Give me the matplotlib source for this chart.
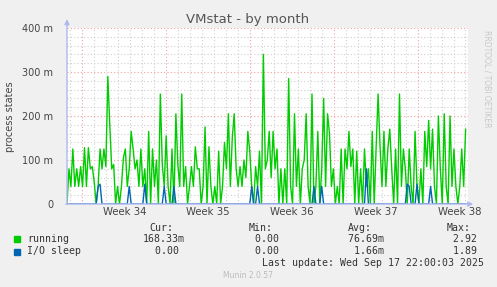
import numpy as np
import matplotlib
matplotlib.use("Agg")
import matplotlib.pyplot as plt
from matplotlib.patches import Rectangle

W, H = 497, 287

# running processes (milli-units), one reading every ~4h over the month
running = [
    0, 80, 40, 125, 40, 80, 40, 85, 40, 128, 40, 128, 80, 85, 50, 0, 40, 125, 80, 125,
    85, 290, 180, 80, 90, 0, 40, 0, 40, 105, 125, 40, 80, 165,
    125, 80, 100, 40, 125, 40, 80, 0, 165, 0, 125, 40, 100, 0, 250, 90, 40, 155, 40, 0,
    125, 0, 205, 90, 40, 250, 40, 85, 0, 40, 85, 40, 130, 80,
    80, 0, 40, 175, 0, 130, 40, 0, 40, 0, 120, 0, 40, 140, 80, 205, 40, 150, 205, 80,
    40, 85, 40, 100, 60, 165, 120, 40, 0, 85, 40, 120, 0, 340,
    80, 100, 165, 60, 165, 80, 125, 0, 80, 0, 80, 0, 285, 40, 0, 205, 40, 125, 0, 80,
    100, 205, 40, 0, 250, 0, 40, 165, 0, 80, 240, 40, 205, 160,
    40, 80, 0, 40, 0, 125, 0, 125, 80, 165, 85, 125, 0, 120, 0, 80, 0, 125, 40, 80,
    0, 165, 0, 130, 250, 130, 40, 165, 40, 125, 170, 80, 0, 125,
    0, 250, 40, 125, 80, 0, 125, 40, 0, 165, 40, 0, 80, 0, 165, 85, 190, 80, 170, 40,
    0, 200, 80, 0, 205, 40, 0, 200, 40, 125, 40, 0, 40, 125, 40, 170,
]

# I/O sleep spikes: day offset and value (milli-units)
io_days = [2.6, 2.75, 5.27, 6.5, 8.2, 9.0, 15.5, 15.9, 20.6, 21.2, 25.0, 28.4, 28.6, 29.3, 30.3]
io_vals = [40, 45, 40, 45, 40, 40, 40, 40, 40, 40, 80, 45, 40, 45, 40]

week_labels = ["Week 34", "Week 35", "Week 36", "Week 37", "Week 38"]
ytick_vals = [0, 100, 200, 300, 400]
ytick_labels = ["0", "100 m", "200 m", "300 m", "400 m"]

legend_names = ["running", "I/O sleep"]
legend_colors = ["#00CC00", "#0066B3"]
cur = ["168.33m", "  0.00 "]
mins = ["  0.00 ", "  0.00 "]
avgs = [" 76.69m", "  1.66m"]
maxs = ["  2.92 ", "  1.89 "]

span = 33.5      # days shown
data_end = 33.3
week0 = 1.29     # first week boundary (days)

x = np.linspace(0, data_end, len(running))
io = np.zeros(len(running))
for d, v in zip(io_days, io_vals):
    io[np.argmin(np.abs(x - d))] = v


def fx(px):
    return px / W


def fy(py):
    return 1 - py / H


fig = plt.figure(figsize=(W / 100, H / 100), dpi=100, facecolor="#F0F0F0")
ax = fig.add_axes([fx(67), fy(204), (468 - 67) / W, (204 - 28) / H])
ax.set_facecolor("white")
ax.set_xlim(0, span)
ax.set_ylim(0, 400)
for s in ax.spines.values():
    s.set_visible(False)

# grid
for d in np.arange(week0 - 1, span, 1.0):
    major = abs(((d - week0) / 7) - round((d - week0) / 7)) < 1e-6
    ax.axvline(d, color="#F2A0A0" if major else "#CFCFCF", lw=0.8,
               ls=(0, (1, 2)), zorder=0)
for v in range(20, 401, 20):
    ax.axhline(v, color="#F2A0A0" if v % 100 == 0 else "#CFCFCF", lw=0.8,
               ls=(0, (1, 2)), zorder=0)

ax.plot(x, running, color=legend_colors[0], lw=1.0, zorder=2)
ax.plot(x, io, color=legend_colors[1], lw=1.0, zorder=3)

ax.set_xticks([])
ax.set_yticks(ytick_vals)
ax.set_yticklabels(ytick_labels, fontsize=7, color="#444444")
ax.tick_params(axis="y", length=0, pad=10)

for i, lab in enumerate(week_labels):
    ax.text(week0 + 7 * i + 3.5, -6, lab, ha="center", va="top", fontsize=7.3,
            color="#444444", clip_on=False)

axis_col = "#AEB8EE"
ax.annotate("", xy=(1.013, 0), xytext=(-0.003, 0), xycoords="axes fraction",
            arrowprops=dict(arrowstyle="-|>", color=axis_col, lw=1, mutation_scale=7,
                            shrinkA=0, shrinkB=0))
ax.annotate("", xy=(0, 1.05), xytext=(0, -0.003), xycoords="axes fraction",
            arrowprops=dict(arrowstyle="-|>", color=axis_col, lw=1, mutation_scale=7,
                            shrinkA=0, shrinkB=0))

fig.text(fx(248), fy(19), "VMstat - by month", ha="center", va="center",
         fontsize=9.5, color="#555555")
fig.text(fx(10), fy(117), "process states", ha="center", va="center",
         rotation=90, fontsize=7, color="#444444")
fig.text(fx(487), fy(30), "RRDTOOL / TOBI OETIKER", ha="center", va="top",
         rotation=270, fontsize=5.5, color="#C8C8C8")

mono = dict(family="DejaVu Sans Mono", fontsize=7.1, color="#333333", va="center")
fig.text(fx(149), fy(228), "Cur:", **mono)
fig.text(fx(249), fy(228), "Min:", **mono)
fig.text(fx(348), fy(228), "Avg:", **mono)
fig.text(fx(447), fy(228), "Max:", **mono)
for i, name in enumerate(legend_names):
    yrow = 239 + 12.5 * i
    fig.patches.append(Rectangle((fx(14), fy(yrow + 3)), 6 / W, 6 / H,
                                 transform=fig.transFigure, color=legend_colors[i]))
    fig.text(fx(27), fy(yrow), name, **mono)
    fig.text(fx(143), fy(yrow), cur[i], **mono)
    fig.text(fx(243), fy(yrow), mins[i], **mono)
    fig.text(fx(342), fy(yrow), avgs[i], **mono)
    fig.text(fx(441), fy(yrow), maxs[i], **mono)
fig.text(fx(262), fy(263), "Last update: Wed Sep 17 22:00:03 2025", **mono)
fig.text(fx(248), fy(276), "Munin 2.0.57", ha="center", va="center",
         fontsize=5.5, color="#BBBBBB")

fig.savefig("out.png", dpi=100, facecolor=fig.get_facecolor())
